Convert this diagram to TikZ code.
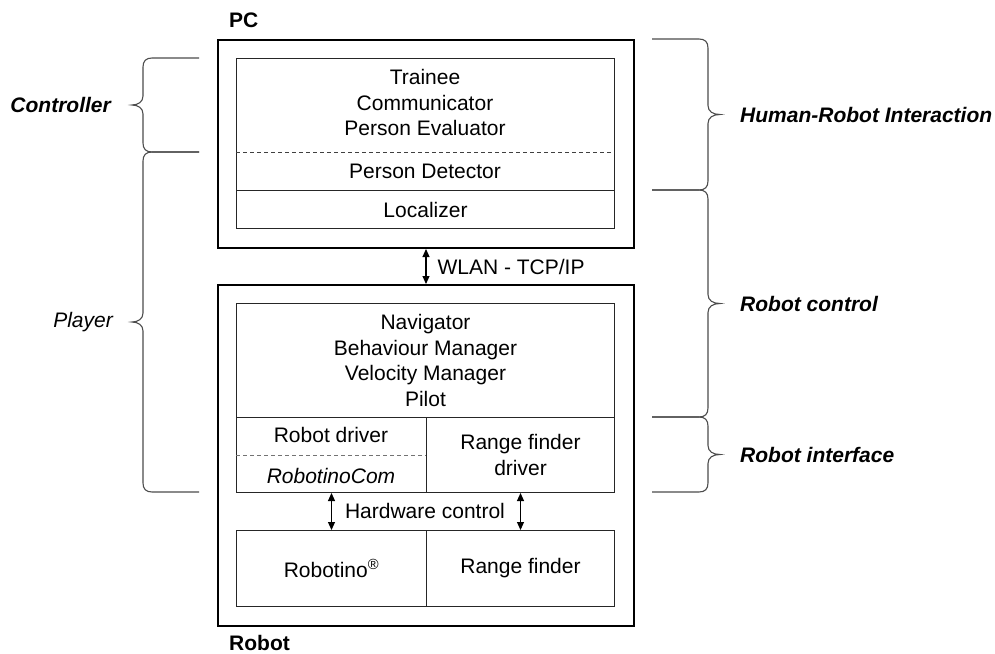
\documentclass[tikz,border=0pt]{standalone}
\usepackage{fontspec}
\setmainfont{Liberation Sans}
\usetikzlibrary{arrows.meta}

% Curly brace opening to the left, tip on the right
\newcommand\sidebraceR[2]{%
  \pgfmathsetmacro\bmid{(#1+#2)/2}%
  \draw[bracepen] (652,#1) -- (699,#1)
    .. controls (705,#1) and (708,{#1+3}) .. (708,{#1+9})
    -- (708,{\bmid-9})
    .. controls (708,{\bmid-3}) and (713,\bmid) .. (720,\bmid)
    .. controls (713,\bmid) and (708,{\bmid+3}) .. (708,{\bmid+9})
    -- (708,{#2-9})
    .. controls (708,{#2-3}) and (705,#2) .. (699,#2) -- (652,#2);}
% Curly brace opening to the right, tip on the left
\newcommand\sidebraceL[2]{%
  \pgfmathsetmacro\bmid{(#1+#2)/2}%
  \draw[bracepen] (199,#1) -- (152,#1)
    .. controls (146,#1) and (143,{#1+3}) .. (143,{#1+9})
    -- (143,{\bmid-9})
    .. controls (143,{\bmid-3}) and (138,\bmid) .. (132,\bmid)
    .. controls (138,\bmid) and (143,{\bmid+3}) .. (143,{\bmid+9})
    -- (143,{#2-9})
    .. controls (143,{#2-3}) and (146,#2) .. (152,#2) -- (199,#2);}

\begin{document}
\begin{tikzpicture}[x=1pt,y=-1pt,
  every node/.style={font=\fontsize{21}{25.5}\selectfont},
  frame/.style={draw=black, line width=2pt, anchor=north west, inner sep=0pt},
  cell/.style={draw=black!85, line width=1pt, anchor=north west, inner sep=0pt, align=center},
  lbl/.style={inner sep=0pt, align=center},
  sep/.style={draw=black!75, line width=0.8pt, dash pattern=on 4pt off 3pt},
  link/.style={line width=1.1pt, {Triangle[length=8pt,width=7pt]}-{Triangle[length=8pt,width=7pt]}},
  bracepen/.style={draw=black!70, line width=1.1pt},
  side/.style={inner sep=0pt, font=\fontsize{21}{25}\selectfont\bfseries\itshape}]

\useasboundingbox (0,0) rectangle (995,653);

% ---- PC ----
\node[lbl, anchor=west, font=\fontsize{21}{25}\selectfont\bfseries] (pclabel) at (229,20) {PC};
\node[frame, minimum width=416pt, minimum height=208pt] (pc) at (217,39) {};
\node[cell, minimum width=378pt, minimum height=132pt] (hi) at (236,58) {};
\node[cell, minimum width=378pt, minimum height=38pt] (loc) at (236,190) {Localizer};
\draw[sep] (236,152) -- (614,152);
\node[lbl] (upper) at (425,102.5) {Trainee\\Communicator\\Person Evaluator};
\node[lbl] (pdet) at (425,171) {Person Detector};

% ---- Robot ----
\node[frame, minimum width=416pt, minimum height=341pt] (robot) at (217,284) {};
\node[cell, minimum width=378pt, minimum height=114pt] (nav) at (236,303)
  {Navigator\\Behaviour Manager\\Velocity Manager\\Pilot};
\node[cell, minimum width=190pt, minimum height=75pt] (drv) at (236,417) {};
\node[cell, minimum width=188pt, minimum height=75pt] (rfd) at (426,417) {Range finder\\driver};
\draw[sep, draw=black!55] (236,455) -- (426,455);
\node[lbl] (rdrv) at (331,435) {Robot driver};
\node[lbl, font=\fontsize{21}{25}\selectfont\itshape] (rcom) at (331,476) {RobotinoCom};
\node[cell, minimum width=190pt, minimum height=76pt] (rtino) at (236,530) {Robotino\textsuperscript{\textregistered}};
\node[cell, minimum width=188pt, minimum height=76pt] (rf) at (426,530) {Range finder};
\node[lbl, anchor=west, font=\fontsize{21}{25}\selectfont\bfseries] (robotlabel) at (229,643) {Robot};

% ---- links ----
\draw[link] (pc.south) -- (robot.north) node[midway, right=11pt, lbl] (wlan) {WLAN - TCP/IP};
\draw[link] (drv.south) -- (rtino.north);
\draw[link] (rfd.south) -- (rf.north);
\node[lbl] (hw) at (425,511) {Hardware control};

% ---- braces ----
\sidebraceL{58}{152}
\sidebraceL{152}{492}
\sidebraceR{39}{190}
\sidebraceR{190}{417}
\sidebraceR{417}{492}

\node[side, anchor=east] (ctl) at (111,105) {Controller};
\node[side, anchor=east, font=\fontsize{21}{25}\selectfont\itshape] (ply) at (113,322) {Player};
\node[side, anchor=west] (hri) at (740,114.5) {Human-Robot Interaction};
\node[side, anchor=west] (rctl) at (740,303.5) {Robot control};
\node[side, anchor=west] (rif) at (740,454.5) {Robot interface};
\end{tikzpicture}
\end{document}
